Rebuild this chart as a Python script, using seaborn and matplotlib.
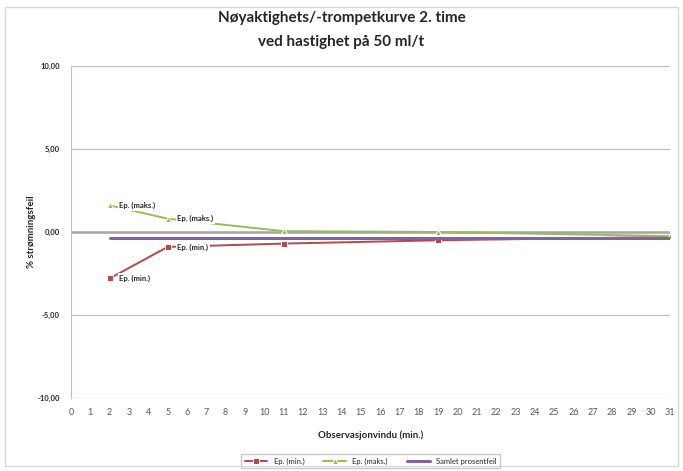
"""
Trumpet curve chart
"""

import seaborn as sns
import pandas as pd
import matplotlib.pyplot as plt

# data
window = [2, 5, 11, 19, 31]
ep_min = [-2.8, -0.9, -0.7, -0.5, -0.3]
ep_maks = [1.6, 0.8, 0.05, 0.0, -0.25]
samlet = [-0.35, -0.35, -0.35, -0.35, -0.35]
series_names = ['Ep. (min.)', 'Ep. (maks.)', 'Samlet prosentfeil']
x_ticks = list(range(0, 32))
y_ticks = [-10, -5, 0, 5, 10]
y_tick_labels = ['-10,00', '-5,00', '0,00', '5,00', '10,00']

sns.set_style('white')
plt.rcParams['font.family'] = ['Lato', 'DejaVu Sans']

df = pd.DataFrame({
    'x': window * 3,
    'y': ep_min + ep_maks + samlet,
    'serie': [series_names[0]] * 5 + [series_names[1]] * 5 + [series_names[2]] * 5,
})

fig = plt.figure(figsize=(6.83, 4.71), dpi=100)
ax = fig.add_axes([0.104, 0.155, 0.877, 0.705])

# gridlines and zero line
for yv in y_ticks:
    ax.axhline(yv, color='#BFBFBF', lw=0.9, zorder=0)
ax.axhline(0, color='#A6A6A6', lw=1.8, zorder=1)

palette = {'Ep. (min.)': '#B5484A', 'Ep. (maks.)': '#9BBB59', 'Samlet prosentfeil': '#8064A2'}
sns.lineplot(data=df, x='x', y='y', hue='serie', palette=palette, style='serie',
             markers={'Ep. (min.)': 's', 'Ep. (maks.)': '^', 'Samlet prosentfeil': 'o'},
             markersize=4, dashes=False, lw=1.4, ax=ax, zorder=3)
# no markers on the total line
for line in ax.lines:
    if line.get_label() == 'Samlet prosentfeil' or line.get_color() == '#8064A2':
        line.set_marker('')
        line.set_linewidth(2.2)

lbl = dict(fontsize=5.5, fontweight='bold', textcoords='offset points', va='center',
           bbox=dict(boxstyle='square,pad=0.2', fc='white', ec='none'))
for i in [0, 1]:
    ax.annotate('Ep. (maks.)', (window[i], ep_maks[i]), xytext=(7, 0), **lbl)
    ax.annotate('Ep. (min.)', (window[i], ep_min[i]), xytext=(7, 0), **lbl)

ax.set_xlim(0, 31)
ax.set_ylim(-10, 10)
ax.set_xticks(x_ticks)
ax.set_xticklabels([str(t) for t in x_ticks], fontsize=6.5, color='#595959')
ax.set_yticks(y_ticks)
ax.set_yticklabels(y_tick_labels, fontsize=5.5, fontweight='bold')
ax.tick_params(axis='both', length=0, pad=8)
ax.tick_params(axis='x', pad=7)
for s in ['top', 'right', 'bottom']:
    ax.spines[s].set_visible(False)
ax.spines['left'].set_color('#BFBFBF')

ax.set_xlabel('Observasjonvindu (min.)', fontsize=7, fontweight='bold', labelpad=10)
ax.set_ylabel('% strømningsfeil', fontsize=7, fontweight='bold', labelpad=1)

fig.suptitle('Nøyaktighets/-trompetkurve 2. time\nved hastighet på 50 ml/t',
             fontsize=11, fontweight='bold', y=0.977, linespacing=1.95)

handles, labels = ax.get_legend_handles_labels()
ax.legend(handles, labels, loc='center', bbox_to_anchor=(0.5, -0.19), ncol=3,
          fontsize=5.5, frameon=True, fancybox=False, edgecolor='#BFBFBF',
          handlelength=3, columnspacing=2.5, borderpad=0.5)

# outer border like the chart area
fig.add_artist(plt.Rectangle((0.007, 0.01), 0.986, 0.975, transform=fig.transFigure,
                             fill=False, ec='#D9D9D9', lw=1))

fig.savefig('out.png', dpi=100)
